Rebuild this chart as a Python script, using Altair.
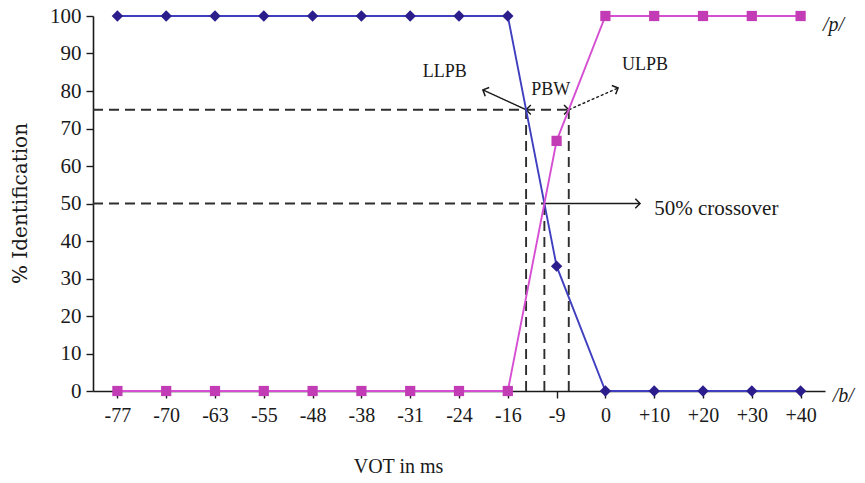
import math
import altair as alt
import pandas as pd

# VOT continuum (ms) and identification scores (%) for the two responses
vot_labels = ["-77", "-70", "-63", "-55", "-48", "-38", "-31", "-24", "-16",
              "-9", "0", "+10", "+20", "+30", "+40"]
b_percent = [100, 100, 100, 100, 100, 100, 100, 100, 100, 33.3, 0, 0, 0, 0, 0]
p_percent = [0, 0, 0, 0, 0, 0, 0, 0, 0, 66.7, 100, 100, 100, 100, 100]
y_ticks = [0, 10, 20, 30, 40, 50, 60, 70, 80, 90, 100]

# plot geometry
W, H = 732, 375
X_DOMAIN = [-0.5, len(vot_labels) - 0.5]
PX_X = W / (X_DOMAIN[1] - X_DOMAIN[0])
PX_Y = H / 100.0
SERIF = "Liberation Serif"
INK = "#1a1a1a"


def crossing(values, level):
    """Fractional index where a piecewise-linear series passes `level`."""
    for i in range(len(values) - 1):
        a, b = values[i], values[i + 1]
        if a != b and (a - level) * (b - level) <= 0:
            return i + (level - a) / (b - a)
    return None


diff = [b - p for b, p in zip(b_percent, p_percent)]
llpb = crossing(b_percent, 75)      # lower limit of phoneme boundary
ulpb = crossing(p_percent, 75)      # upper limit of phoneme boundary
cross = crossing(diff, 0)           # 50% crossover

idx = list(range(len(vot_labels)))
series = pd.DataFrame({
    "i": idx * 2,
    "pct": b_percent + p_percent,
    "resp": ["/b/"] * len(idx) + ["/p/"] * len(idx),
})

x_scale = alt.Scale(domain=X_DOMAIN, nice=False, zero=False)
y_scale = alt.Scale(domain=[0, 100], nice=False)
label_expr = "[" + ",".join(f"'{v}'" for v in vot_labels) + "][datum.value]"

x_axis = alt.Axis(
    values=idx, labelExpr=label_expr, grid=False, tickSize=7, labelOverlap=False,
    labelPadding=7, labelFont=SERIF, labelFontSize=20, labelColor=INK,
    title="VOT in ms", titleFont=SERIF, titleFontSize=20, titleFontWeight="normal",
    titleColor=INK, titleX=305, titleY=75, titleAlign="center",
    titleBaseline="middle", domainColor=INK, tickColor=INK,
    domainWidth=1.6, tickWidth=1.4)
y_axis = alt.Axis(
    values=y_ticks, tickCount=len(y_ticks), labelOverlap=False, grid=False,
    tickSize=7, labelPadding=5,
    labelFont=SERIF, labelFontSize=21, labelColor=INK,
    title="% Identification", titleFont="DejaVu Serif", titleFontSize=20,
    titleFontWeight="normal", titleColor=INK, titleX=-73, titleY=187,
    titleAngle=-90, titleAlign="center", titleBaseline="middle",
    domainColor=INK, tickColor=INK, domainWidth=1.6, tickWidth=1.4)


def xq(field):
    return alt.X(f"{field}:Q", scale=x_scale, axis=x_axis)


def yq(field):
    return alt.Y(f"{field}:Q", scale=y_scale, axis=y_axis)


b_df = series[series.resp == "/b/"]
p_df = series[series.resp == "/p/"]

b_line = alt.Chart(b_df).mark_line(color="#3f3fc0", strokeWidth=1.9).encode(x=xq("i"), y=yq("pct"))
b_pts = alt.Chart(b_df).mark_point(shape="diamond", filled=True, size=130,
                                   color="#2b1d8c", opacity=1).encode(x=xq("i"), y=yq("pct"))
p_line = alt.Chart(p_df).mark_line(color="#d64fd2", strokeWidth=1.9).encode(x=xq("i"), y=yq("pct"))
p_pts = alt.Chart(p_df).mark_point(shape="square", filled=True, size=105,
                                   color="#c23db5", opacity=1).encode(x=xq("i"), y=yq("pct"))

# dashed guide lines for the boundary limits and the crossover
guides = pd.DataFrame({
    "x1": [X_DOMAIN[0], X_DOMAIN[0], llpb, cross, ulpb],
    "x2": [ulpb, cross, llpb, cross, ulpb],
    "y1": [75, 50, 0, 0, 0],
    "y2": [75, 50, 75, 50, 75],
})
dashed = alt.Chart(guides).mark_rule(color="#2e2e2e", strokeWidth=1.9,
                                     strokeDash=[10, 6]).encode(
    x=xq("x1"), x2="x2:Q", y=yq("y1"), y2="y2:Q")

# annotation arrows: start point, tip point
arrows = pd.DataFrame({
    "x1": [llpb, ulpb, cross],
    "y1": [75, 75, 50],
    "x2": [7.49, 10.26, 10.71],
    "y2": [80.3, 80.8, 50],
    "dash": ["solid", "dot", "solid"],
})
arrow_lines = alt.Chart(arrows).mark_rule(color=INK, strokeWidth=1.4).encode(
    x=xq("x1"), x2="x2:Q", y=yq("y1"), y2="y2:Q",
    strokeDash=alt.StrokeDash("dash:N", legend=None,
                              scale=alt.Scale(domain=["solid", "dot"],
                                              range=[[1, 0], [3, 2]])))


def heading(dx, dy):
    """Clockwise screen angle (0 = up) of a data-space direction."""
    return math.degrees(math.atan2(dx * PX_X, dy * PX_Y)) % 360


heads = pd.DataFrame({
    "x": list(arrows.x2) + [llpb, ulpb],
    "y": list(arrows.y2) + [75, 75],
    "ang": [heading(a2 - a1, b2 - b1) for a1, b1, a2, b2 in
            zip(arrows.x1, arrows.y1, arrows.x2, arrows.y2)] + [270, 90],
})
arrow_heads = alt.Chart(heads).mark_point(
    shape="M-1,1L0,0L1,1", filled=False, size=90, color=INK, strokeWidth=1.5,
    opacity=1).encode(x=xq("x"), y=yq("y"), angle=alt.Angle("ang:Q", scale=None))

notes = pd.DataFrame({
    "x": [6.71, 8.88, 10.81],
    "y": [85.0, 80.3, 87.0],
    "txt": ["LLPB", "PBW", "ULPB"],
})
note_text = alt.Chart(notes).mark_text(font=SERIF, fontSize=18, color=INK,
                                       align="center", baseline="middle").encode(
    x=xq("x"), y=yq("y"), text="txt:N")

cross_text = alt.Chart(pd.DataFrame({"x": [11.0], "y": [48.5], "txt": ["50% crossover"]})).mark_text(
    font=SERIF, fontSize=21, color=INK, align="left", baseline="middle").encode(
    x=xq("x"), y=yq("y"), text="txt:N")

series_tags = pd.DataFrame({"x": [14.46, 14.66], "y": [97.6, -1.3], "txt": ["/p/", "/b/"]})
tag_text = alt.Chart(series_tags).mark_text(
    font=SERIF, fontSize=20, fontStyle="italic", color=INK, align="left",
    baseline="middle").encode(x=xq("x"), y=yq("y"), text="txt:N")

chart = alt.layer(
    dashed, arrow_lines, arrow_heads, b_line, p_line, b_pts, p_pts,
    note_text, cross_text, tag_text,
).properties(
    width=W, height=H,
    autosize=alt.AutoSizeParams(type="none"),
    padding={"left": 93, "top": 16, "right": 40, "bottom": 92},
    background="white",
).configure_view(stroke=None)

chart.save("out.html", embed_options={"renderer": "svg", "actions": False})
